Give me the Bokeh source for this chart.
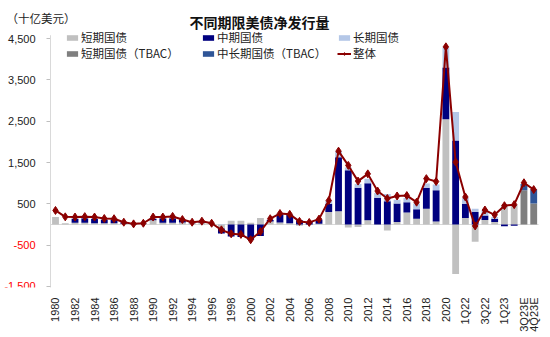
from bokeh.plotting import figure
from bokeh.models import (ColumnDataSource, FixedTicker, NumeralTickFormatter, LinearAxis,
                          Range1d, Legend, LegendItem, Label)
from bokeh.embed import file_html
from bokeh.resources import INLINE

# ---------------- data (十亿美元) ----------------
categories = [str(y) for y in range(1980, 2022)] + [
    "1Q22", "2Q22", "3Q22", "4Q22", "1Q23", "2Q23", "3Q23E", "4Q23E"]

short_bills = [180, 30, 40, 40, 30, 30, 30, 15, 5, 15,
               100, 40, 40, 50, 30, 40, 25, -100, 90, 90,
               40, 160, 70, 50, 30, -30, -10, 20, 300, 320,
               -70, -60, 100, 0, -145, 60, 290, 140, 380, 70,
               2550, -1200, 160, -420, 110, 60, 480, 470, 0, 0]
mid_notes = [0, 0, 100, 110, 110, 90, 90, 35, 10, 10,
             40, 110, 110, 60, 20, 20, 0, -120, -290, -300,
             -370, -280, 40, 200, 200, 100, 60, 100, 200, 1310,
             1310, 890, 900, 650, 560, 450, 250, 230, 510, 760,
             1250, 2030, 340, 300, 110, 80, -40, -30, 0, 0]
long_bonds = [0, 0, 10, 10, 10, 10, 10, 5, 0, 5,
              10, 15, 15, 10, 5, 5, 5, 10, 0, 0,
              0, 0, 10, 15, 15, 5, 5, 10, 80, 145,
              70, 90, 105, 110, 180, 90, 100, 140, 100, 140,
              490, 690, 150, 80, 130, 40, 0, 0, 0, 0]
tbac_bills = [0] * 48 + [830, 510]
tbac_coupons = [0] * 48 + [150, 340]
total = [340, 185, 180, 190, 180, 145, 140, 55, 15, 30,
         180, 180, 195, 120, 55, 80, 30, -130, -225, -240,
         -370, -170, 140, 265, 245, 75, 50, 130, 580, 1775,
         1430, 1050, 1225, 810, 630, 690, 700, 540, 1110, 1040,
         4300, 1510, 665, -35, 350, 235, 455, 480, 1010, 845]

series_names = ["短期国债", "中期国债", "长期国债", "短期国债（TBAC）", "中长期国债（TBAC）"]
series_values = [short_bills, mid_notes, long_bonds, tbac_bills, tbac_coupons]
series_colors = ["#C0C0C0", "#00007F", "#B4C7E7", "#7F7F7F", "#2F5597"]
line_name = "整体"
line_color = "#8B0000"

y_ticks_pos = [500, 1500, 2500, 3500, 4500]
y_ticks_neg = [-500, -1500]

x = list(range(len(categories)))
label_idx = list(range(0, 49, 2)) + [49]

FONT_NUM = "Liberation Sans, Arial, Noto Sans CJK SC"
FONT_CJK = "Noto Sans CJK SC"

# ---------------- figure ----------------
p = figure(width=550, height=337, output_backend="svg", toolbar_location=None,
           x_range=Range1d(-5.635, 50.72), y_range=Range1d(-1525, 5300),
           x_axis_location=None, y_axis_location=None,
           min_border_left=0, min_border_right=0, min_border_top=5, min_border_bottom=50)
p.outline_line_color = None
p.xgrid.visible = False
p.ygrid.visible = False
p.background_fill_color = "white"
p.border_fill_color = "white"

# zero line
p.segment(x0=[x[0] - 0.5], y0=[0], x1=[x[-1] + 0.5], y1=[0], line_color="#D9D9D9", line_width=1)

# stacked bars (positive and negative stacks separately)
pos_base = [0.0] * len(x)
neg_base = [0.0] * len(x)
bar_renderers = []
for name, vals, col in zip(series_names, series_values, series_colors):
    bottoms, tops = [], []
    for i, v in enumerate(vals):
        if v >= 0:
            bottoms.append(pos_base[i]); tops.append(pos_base[i] + v); pos_base[i] += v
        else:
            bottoms.append(neg_base[i]); tops.append(neg_base[i] + v); neg_base[i] += v
    src = ColumnDataSource(dict(x=x, bottom=bottoms, top=tops))
    r = p.vbar(x="x", bottom="bottom", top="top", width=0.7, source=src,
               fill_color=col, line_color=None)
    bar_renderers.append(r)

lsrc = ColumnDataSource(dict(x=x, y=total))
lr = p.line("x", "y", source=lsrc, line_color=line_color, line_width=2)
sr = p.scatter("x", "y", source=lsrc, marker="diamond", size=8,
               fill_color=line_color, line_color=line_color)

# ---------------- axes ----------------
xax = LinearAxis(ticker=FixedTicker(ticks=label_idx),
                 major_label_overrides={i: categories[i] for i in label_idx})
xax.axis_line_color = None
xax.major_tick_line_color = None
xax.minor_tick_line_color = None
xax.major_label_orientation = 1.5707963
xax.major_label_text_font = FONT_NUM
xax.major_label_text_font_size = "11px"
xax.major_label_text_color = "#222222"
xax.major_label_standoff = 4
p.add_layout(xax, "below")

def make_yaxis(ticks, color):
    ax = LinearAxis(fixed_location=-0.5, ticker=FixedTicker(ticks=ticks),
                    formatter=NumeralTickFormatter(format="0,0"), bounds=(-1525, 4580))
    ax.axis_line_color = "#D9D9D9"
    ax.major_tick_line_color = "#BFBFBF"
    ax.major_tick_out = 4
    ax.major_tick_in = 0
    ax.minor_tick_line_color = None
    ax.major_label_text_font = FONT_NUM
    ax.major_label_text_font_size = "11px"
    ax.major_label_text_color = color
    ax.major_label_standoff = 11
    return ax

p.add_layout(make_yaxis(y_ticks_pos, "#222222"), "left")
p.add_layout(make_yaxis(y_ticks_neg, "#FF0000"), "left")

# ---------------- legend ----------------
items = [LegendItem(label=n, renderers=[r]) for n, r in zip(series_names, bar_renderers)]
items.append(LegendItem(label=line_name, renderers=[lr, sr]))
legend = Legend(items=items, orientation="horizontal", ncols=3,
                location=(65, 226), padding=0, margin=0, spacing=0,
                glyph_width=14, glyph_height=7, label_width=120, label_height=10,
                label_standoff=2, border_line_color=None, background_fill_alpha=0,
                label_text_font=FONT_CJK, label_text_font_size="11.5px",
                label_text_color="#222222")
p.add_layout(legend, "center")

# ---------------- titles ----------------
p.add_layout(Label(x=259, y=266, x_units="screen", y_units="screen",
                   text="不同期限美债净发行量", text_align="center", text_baseline="middle",
                   text_font=FONT_CJK, text_font_size="14px", text_font_style="bold",
                   text_color="#111111"))
p.add_layout(Label(x=6, y=270, x_units="screen", y_units="screen",
                   text="（十亿美元）", text_align="left", text_baseline="middle",
                   text_font=FONT_CJK, text_font_size="11.5px", text_color="#222222"))

open("out.html", "w").write(file_html(p, INLINE))
